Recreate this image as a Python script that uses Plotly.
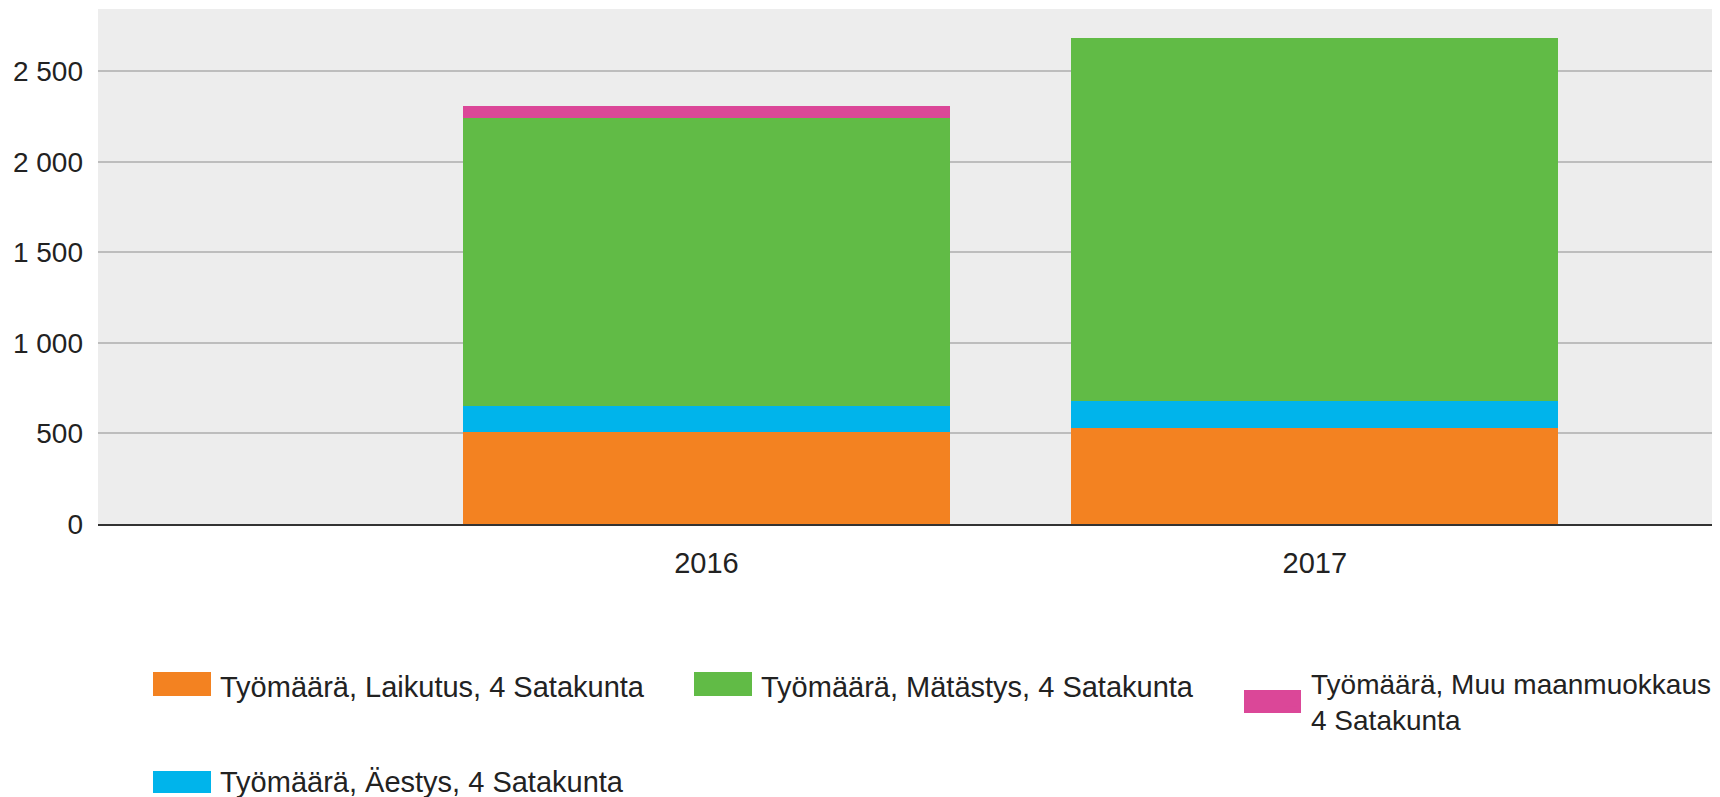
import plotly.graph_objects as go

years = ["2016", "2017"]
laikutus = [508, 532]
aestys = [144, 145]
matastys = [1593, 2008]
muu = [62, 0]

names = {
    "laikutus": "Työmäärä, Laikutus, 4 Satakunta",
    "matastys": "Työmäärä, Mätästys, 4 Satakunta",
    "muu": "Työmäärä, Muu maanmuokkaus,<br>4 Satakunta",
    "aestys": "Työmäärä, Äestys, 4 Satakunta",
}
colors = {
    "laikutus": "#F38221",
    "aestys": "#00B4EB",
    "matastys": "#61BB46",
    "muu": "#DB4798",
}

# page body has an 8px margin; figure sized to fill the rest of the window
OFF = 8
W, H = 1720 - OFF, 797 - OFF
FONT = "Liberation Sans, Arial, sans-serif"
TXT = "#222222"

PLOT_L, PLOT_T, PLOT_B = 98, 9, 524          # page pixels
PLOT_R = 1720

# legend layout (page pixels): text start x, text centre y, swatch box, font size
legend_layout = {
    "laikutus": dict(lg="legend", tx=220, cy=686, box=(153, 672, 211, 696), fs=29),
    "matastys": dict(lg="legend2", tx=761, cy=686, box=(694, 672, 752, 696), fs=29),
    "muu": dict(lg="legend3", tx=1311, cy=701, box=(1244, 690, 1301, 713), fs=28),
    "aestys": dict(lg="legend4", tx=220, cy=781, box=(153, 771, 211, 793), fs=29),
}

fig = go.Figure()
# stacking order bottom -> top
for key, vals in [("laikutus", laikutus), ("aestys", aestys),
                  ("matastys", matastys), ("muu", muu)]:
    fig.add_trace(go.Bar(
        x=years, y=vals, name=names[key],
        marker=dict(color=colors[key], line=dict(width=0)),
        width=0.8, legend=legend_layout[key]["lg"], showlegend=True,
    ))

def leg(text_x, center_y, fs):
    return dict(
        xref="container", yref="container",
        x=(text_x - OFF - 40) / W, y=1 - (center_y - OFF) / H,
        xanchor="left", yanchor="middle",
        orientation="h", bgcolor="rgba(0,0,0,0)",
        font=dict(family=FONT, size=fs, color=TXT),
        itemclick=False, itemdoubleclick=False,
    )

def px_to_paper_x(px):
    return (px - PLOT_L) / (PLOT_R - PLOT_L)

def px_to_paper_y(py):
    return (PLOT_B - py) / (PLOT_B - PLOT_T)

# larger legend swatches
shapes = []
for key, spec in legend_layout.items():
    x0, y0, x1, y1 = spec["box"]
    shapes.append(dict(
        type="rect", xref="paper", yref="paper", layer="above",
        x0=px_to_paper_x(x0), x1=px_to_paper_x(x1),
        y0=px_to_paper_y(y1), y1=px_to_paper_y(y0),
        fillcolor=colors[key], line=dict(width=0),
    ))

layout_legends = {}
for key, spec in legend_layout.items():
    layout_legends[spec["lg"]] = leg(spec["tx"], spec["cy"], spec["fs"])

fig.update_layout(
    width=W, height=H,
    barmode="stack",
    showlegend=True,
    paper_bgcolor="white",
    plot_bgcolor="#EDEDED",
    margin=dict(l=PLOT_L - OFF, r=0, t=PLOT_T - OFF, b=H - (PLOT_B - OFF)),
    separators=", ",
    font=dict(family=FONT, size=28, color=TXT),
    xaxis=dict(
        type="category", range=[-1, 1.666],
        showgrid=False, showline=True, linecolor="#333333", linewidth=2,
        ticks="", ticklabelstandoff=12,
        tickfont=dict(family=FONT, size=29, color=TXT),
    ),
    yaxis=dict(
        range=[0, 2845], dtick=500, tick0=0,
        showgrid=True, gridcolor="#BDBDBD", gridwidth=2,
        zeroline=False, showline=False,
        separatethousands=True, ticks="", ticklabelstandoff=14,
        tickfont=dict(family=FONT, size=28, color=TXT),
    ),
    shapes=shapes,
    **layout_legends,
)

fig.write_html("out.html")
